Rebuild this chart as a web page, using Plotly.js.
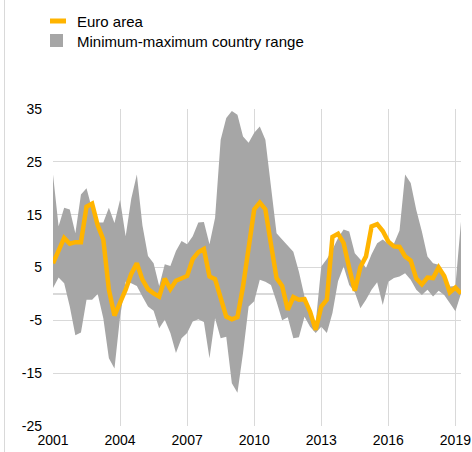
<!DOCTYPE html>
<html>
<head>
<meta charset="utf-8">
<script src="https://cdn.plot.ly/plotly-3.0.1.min.js"></script>
<style>
  html, body { margin: 0; padding: 0; background: #fff; }
  #chart { width: 472px; height: 452px; }
</style>
</head>
<body>
<div id="chart"></div>
<script>
// Quarterly data, 2001Q1 – 2019Q2
const startYear = 2001;
const euroArea = [
  5.8, 8.4, 10.6, 9.5, 9.8, 9.8, 16.5, 17.1, 13.0, 10.3,
  0.8, -4.1, -1.7, 0.8, 3.8, 5.8, 2.7, 0.9, 0.1, -0.5,
  2.9, 0.9, 2.5, 3.0, 3.4, 6.6, 7.9, 8.5, 3.3, 2.8,
  -1.1, -4.3, -4.8, -4.4, 1.4, 9.0, 16.0, 17.3, 16.0, 9.4,
  3.0, 1.5, -3.0, -0.6, -1.1, -1.0, -3.4, -6.8, -2.4, -1.1,
  10.8, 11.4, 9.6, 4.9, 0.6, 5.1, 7.1, 12.8, 13.2, 11.9,
  9.9, 9.0, 8.9, 7.1, 6.3, 2.9, 1.8, 3.1, 3.0, 5.0,
  3.4, 0.3, 1.2, 0.1
];
const rangeMax = [
  22.6, 12.8, 16.3, 16.0, 11.5, 18.8, 20.0, 16.0, 13.5, 13.5,
  16.3, 13.4, 17.8, 10.9, 18.0, 22.6, 13.0, 7.2, 5.8, 1.5,
  5.6, 5.3, 8.1, 10.0, 9.4, 10.9, 13.5, 13.6, 9.4, 14.4,
  29.2, 33.3, 34.6, 33.9, 29.8, 28.6, 30.5, 31.7, 29.2, 20.4,
  11.5, 10.3, 9.1, 8.0, 4.2, -0.5, -3.6, -5.5, 5.2, 6.6,
  8.4, 10.6, 12.2, 11.8, 7.7, 6.5, 4.9, 7.5, 9.6, 10.3,
  9.5, 9.5, 12.0, 22.6, 21.0, 15.9, 11.8, 7.1, 5.8, 5.5,
  3.9, 1.4, 1.5, 13.7
];
const rangeMin = [
  1.1, 3.1, 2.0, -2.4, -7.8, -7.3, -1.1, -1.1, 0.0, -4.6,
  -12.2, -14.1, -4.3, 2.3, 2.0, 1.5, -0.5, -2.4, -3.2, -6.5,
  -4.9, -7.4, -11.2, -8.4, -7.4, -5.2, -4.8, -5.3, -12.2, -4.6,
  -8.4, -8.1, -16.9, -18.7, -11.2, -2.4, -1.4, 2.7, 2.3, 1.7,
  -1.5, -5.0, -4.4, -8.4, -8.2, -4.3, -6.2, -7.4, -6.2, -7.4,
  -3.6, 2.4, 5.2, 1.7, 0.3, -2.7, -1.1, 0.8, 2.2, -2.1,
  2.3, 3.0, 3.3, 3.9, 2.7, 0.8, -0.2, 0.8, -0.5, 0.6,
  -0.2, -1.7, -3.3, 0.1
];
const xTicks = [2001, 2004, 2007, 2010, 2013, 2016, 2019];
const yTicks = [-25, -15, -5, 5, 15, 25, 35];
const legendLabels = ["Euro area", "Minimum-maximum country range"];

const x = euroArea.map((_, i) => startYear + i / 4);

const ORANGE = "#ffb400";
const GREY = "#a6a6a6";
const GRID = "#d9d9d9";
const FONT = "Liberation Sans, Arial, Helvetica, sans-serif";

const W = 472, H = 452;
const M = { l: 53, r: 11, t: 109, b: 26 };
const pw = W - M.l - M.r, ph = H - M.t - M.b;
const px = v => (v - M.l) / pw;
const py = v => 1 - (v - M.t) / ph;

const traces = [
  { x: x, y: rangeMin, type: "scatter", mode: "lines",
    line: { width: 0, color: "rgba(0,0,0,0)" }, showlegend: false, hoverinfo: "skip" },
  { x: x, y: rangeMax, type: "scatter", mode: "lines", fill: "tonexty",
    fillcolor: GREY, line: { width: 0, color: "rgba(0,0,0,0)" },
    name: legendLabels[1], showlegend: false },
  { x: x, y: euroArea, type: "scatter", mode: "lines",
    line: { color: ORANGE, width: 4.5 }, name: legendLabels[0], showlegend: false }
];

const layout = {
  width: W, height: H,
  margin: M,
  paper_bgcolor: "#fff", plot_bgcolor: "#fff",
  font: { family: FONT, size: 14, color: "#000" },
  showlegend: false,
  xaxis: {
    range: [2001, 2019.25], tickvals: xTicks, ticktext: xTicks.map(String),
    showgrid: true, gridcolor: GRID, gridwidth: 1, zeroline: false, showline: false,
    ticks: "", ticklabelstandoff: 4, tickfont: { size: 14, color: "#000" }, fixedrange: true
  },
  yaxis: {
    range: [-25, 35], tickvals: yTicks, ticktext: yTicks.map(String),
    showgrid: true, gridcolor: GRID, gridwidth: 1,
    zeroline: true, zerolinecolor: GRID, zerolinewidth: 2, showline: false,
    ticks: "", ticklabelstandoff: 10, tickfont: { size: 14, color: "#000" }, fixedrange: true
  },
  shapes: [
    { type: "line", xref: "paper", yref: "paper", x0: px(4.5), x1: px(4.5), y0: py(H), y1: py(0),
      line: { color: GRID, width: 1 } },
    { type: "rect", xref: "paper", yref: "paper", x0: px(50), x1: px(66), y0: py(23.5), y1: py(18.5),
      fillcolor: ORANGE, line: { width: 0 } },
    { type: "rect", xref: "paper", yref: "paper", x0: px(50), x1: px(63), y0: py(47), y1: py(34),
      fillcolor: GREY, line: { width: 0 } }
  ],
  annotations: [
    { xref: "paper", yref: "paper", x: px(75), y: py(21.5), xanchor: "left", yanchor: "middle",
      text: legendLabels[0], showarrow: false, font: { size: 15, color: "#000" } },
    { xref: "paper", yref: "paper", x: px(75), y: py(41.5), xanchor: "left", yanchor: "middle",
      text: legendLabels[1], showarrow: false, font: { size: 15, color: "#000" } }
  ]
};

Plotly.newPlot("chart", traces, layout, { staticPlot: true, displayModeBar: false });
</script>
</body>
</html>
